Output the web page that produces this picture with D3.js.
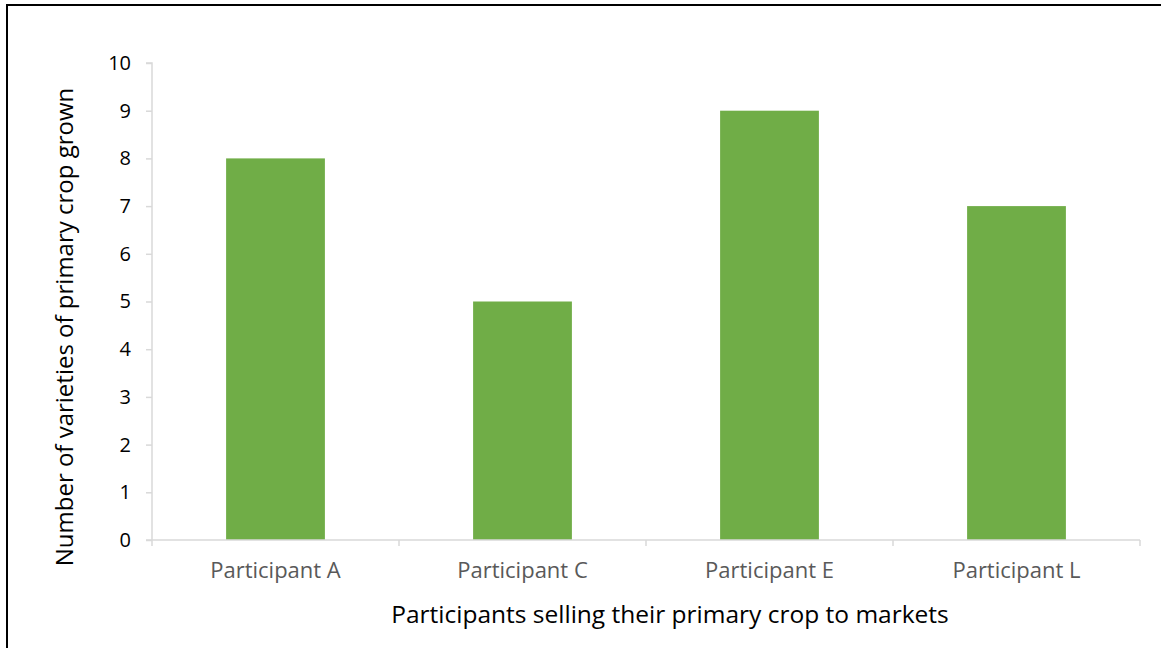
<!DOCTYPE html>
<html>
<head>
<meta charset="utf-8">
<script src="https://cdn.jsdelivr.net/npm/d3@7"></script>
<style>
  html, body { margin: 0; padding: 0; background: #fff; }
  svg { display: block; }
</style>
</head>
<body>
<svg id="chart" width="1161" height="648"></svg>
<script>
// Varieties of primary crop grown, per participant
const categories = ["Participant A", "Participant C", "Participant E", "Participant L"];
const varieties = [8, 5, 9, 7];
const yTicks = [0, 1, 2, 3, 4, 5, 6, 7, 8, 9, 10];

const svg = d3.select("#chart");
const W = 1161, H = 648;
const font = "'Open Sans', 'Liberation Sans', sans-serif";

// Frame lines (left and top)
svg.append("line").attr("x1", 7).attr("x2", 7).attr("y1", 5).attr("y2", H).attr("stroke", "#000").attr("stroke-width", 2);
svg.append("line").attr("x1", 6).attr("x2", 1161).attr("y1", 5).attr("y2", 5).attr("stroke", "#000").attr("stroke-width", 2);

const plot = { left: 152, right: 1140, top: 63, bottom: 540 };

const x = d3.scaleBand().domain(categories).range([plot.left, plot.right]).paddingInner(0.6).paddingOuter(0.3);
const xBoundary = d3.scaleLinear().domain([0, categories.length]).range([plot.left, plot.right]);
const y = d3.scaleLinear().domain([0, 10]).range([plot.bottom, plot.top]);

// Bars
svg.append("g").selectAll("rect").data(varieties).join("rect")
  .attr("x", (d, i) => x(categories[i]))
  .attr("width", x.bandwidth())
  .attr("y", d => y(d))
  .attr("height", d => y(0) - y(d))
  .attr("fill", "#70AD47");

// Y axis
const yAxis = svg.append("g").attr("transform", `translate(${plot.left},0)`)
  .call(d3.axisLeft(y).tickValues(yTicks).tickSize(6).tickPadding(15).tickFormat(d3.format("d")));
yAxis.select(".domain").attr("stroke", "#d9d9d9").attr("stroke-width", 1.5).attr("d", `M-6,${plot.top}H0V${plot.bottom}`);
yAxis.selectAll(".tick line").attr("stroke", "#d9d9d9").attr("stroke-width", 1.5);
yAxis.selectAll(".tick text").attr("fill", "#000").style("font-family", font).style("font-size", "20px");

// X axis with boundary ticks
const xAxis = svg.append("g").attr("transform", `translate(0,${plot.bottom})`);
xAxis.append("line").attr("x1", plot.left - 6).attr("x2", plot.right).attr("y1", 0).attr("y2", 0)
  .attr("stroke", "#d9d9d9").attr("stroke-width", 1.5);
xAxis.selectAll("line.bt").data(d3.range(categories.length + 1)).join("line").attr("class", "bt")
  .attr("x1", d => xBoundary(d)).attr("x2", d => xBoundary(d)).attr("y1", 0).attr("y2", 6)
  .attr("stroke", "#d9d9d9").attr("stroke-width", 1.5);
xAxis.selectAll("text").data(categories).join("text")
  .attr("x", d => x(d) + x.bandwidth() / 2).attr("y", 38)
  .attr("text-anchor", "middle").attr("fill", "#595959")
  .style("font-family", font).style("font-size", "22px").text(d => d);

// Axis titles
svg.append("text").attr("x", 670).attr("y", 623).attr("text-anchor", "middle").attr("fill", "#000")
  .style("font-family", font).style("font-size", "24.5px").text("Participants selling their primary crop to markets");
svg.append("text").attr("transform", `translate(73,327) rotate(-90)`)
  .attr("text-anchor", "middle").attr("fill", "#000")
  .style("font-family", font).style("font-size", "24px").text("Number of varieties of primary crop grown");
</script>
</body>
</html>
